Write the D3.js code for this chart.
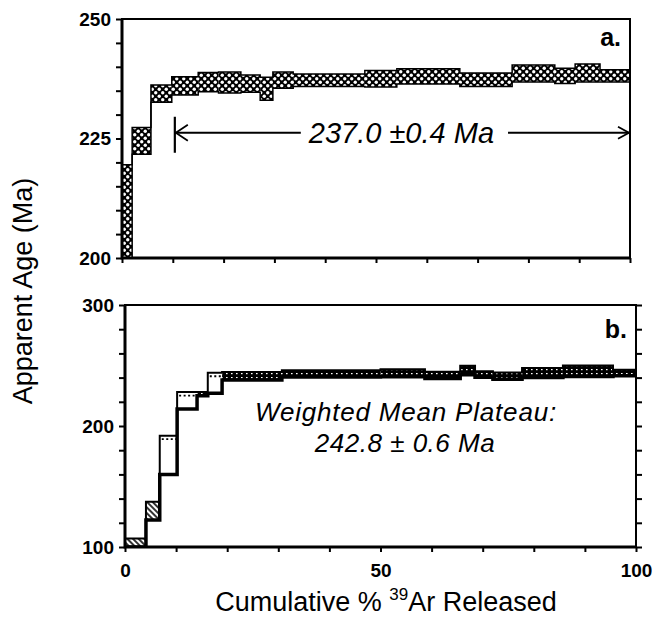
<!DOCTYPE html>
<html lang="en">
<head>
<meta charset="UTF-8">
<title>Apparent age spectra</title>
<script src="https://d3js.org/d3.v7.min.js"></script>
<style>
  body { margin: 0; background: #fff; }
  svg { font-family: "Liberation Sans", Arial, Helvetica, sans-serif; }
  .tick text { font-size: 19px; font-weight: bold; fill: #000; }
  .tick line { stroke: #000; stroke-width: 2px; }
  .domain { display: none; }
</style>
</head>
<body>
<script>
// Panel a: step boundaries (cumulative % 39Ar), apparent age and 1-sigma error (Ma)
const cumA = [0, 2.0, 5.7, 9.8, 15.0, 19.0, 23.4, 27.2, 29.7, 33.7, 47.8, 54.1, 66.5, 76.8, 85.2, 89.2, 94.1, 100];
const ageA = [208, 224.5, 234.4, 236.0, 236.8, 236.7, 236.5, 235.4, 237.2, 237.2, 237.5, 238.0, 237.3, 238.6, 238.1, 238.7, 238.1];
const errA = [11.5, 2.8, 1.8, 1.9, 2.0, 2.2, 1.8, 2.4, 1.7, 1.3, 1.7, 1.6, 1.4, 1.8, 1.6, 1.9, 1.3];
const plateauA = [10.4, 100];
const plateauTextA = "237.0 \u00b10.4 Ma";

// Panel b
const cumB = [0, 4.1, 6.8, 10.2, 14.1, 16.2, 19.0, 30.7, 50.0, 58.7, 65.6, 68.5, 72.0, 77.7, 85.7, 95.5, 100];
const ageB = [103.5, 129.8, 176, 221, 226.5, 235.5, 241.3, 243.3, 243.8, 242.0, 246.0, 242.8, 241.5, 244.0, 245.5, 244.0];
const errB = [3.5, 7.5, 16, 7, 1.5, 8.5, 3.3, 2.8, 3.0, 2.8, 3.7, 2.5, 2.8, 4.0, 4.5, 2.5];
const plateauTextB = ["Weighted Mean Plateau:", "242.8 \u00b1 0.6 Ma"];

// axes
const domainA = [200, 250], labelsA = [200, 225, 250], minorA = 5;
const domainB = [100, 300], labelsB = [100, 200, 300], minorB = 20;
const xLabels = [0, 50, 100], xMinor = 10;

const width = 659, height = 618;
const svg = d3.select("body").append("svg")
  .attr("width", width)
  .attr("height", height);

const defs = svg.append("defs");

// black with white dots (panel a)
const dots = defs.append("pattern")
  .attr("id", "dots")
  .attr("patternUnits", "userSpaceOnUse")
  .attr("width", 7).attr("height", 7);
dots.append("rect").attr("width", 7).attr("height", 7).attr("fill", "#000");
dots.append("circle").attr("cx", 1.75).attr("cy", 1.75).attr("r", 1.7).attr("fill", "#fff");
dots.append("circle").attr("cx", 5.25).attr("cy", 5.25).attr("r", 1.7).attr("fill", "#fff");

// black with fine white specks (panel b plateau steps)
const fine = defs.append("pattern")
  .attr("id", "fine")
  .attr("patternUnits", "userSpaceOnUse")
  .attr("width", 5).attr("height", 4);
fine.append("rect").attr("width", 5).attr("height", 4).attr("fill", "#000");
fine.append("rect").attr("x", 1).attr("y", 1).attr("width", 1.6).attr("height", 1.2).attr("fill", "#fff");

// diagonal hatch (panel b)
const hatch = defs.append("pattern")
  .attr("id", "hatch")
  .attr("patternUnits", "userSpaceOnUse")
  .attr("width", 4).attr("height", 4)
  .attr("patternTransform", "rotate(-45)");
hatch.append("rect").attr("width", 4).attr("height", 4).attr("fill", "#fff");
hatch.append("line").attr("x1", 1).attr("x2", 1).attr("y1", 0).attr("y2", 4)
  .attr("stroke", "#000").attr("stroke-width", 1.6);

function makeSteps(cum, age, err) {
  return age.map((a, i) => ({ x0: cum[i], x1: cum[i + 1], lo: a - err[i], hi: a + err[i], err: err[i] }));
}

function stairs(steps, key) {
  const pts = steps.map(d => [d.x0, d[key]]);
  pts.push([100, steps[steps.length - 1][key]]);
  return pts;
}

function drawPanel(p) {
  const g = svg.append("g");
  const x = d3.scaleLinear().domain([0, 100]).range([p.left, p.right]);
  const y = d3.scaleLinear().domain(p.domain).range([p.bottom, p.top]);

  const clipId = "clip-" + p.name;
  defs.append("clipPath").attr("id", clipId)
    .append("rect")
    .attr("x", p.left).attr("y", p.top)
    .attr("width", p.right - p.left).attr("height", p.bottom - p.top);

  const plot = g.append("g").attr("clip-path", `url(#${clipId})`);
  const steps = makeSteps(p.cum, p.age, p.err);

  // step boxes
  plot.selectAll("rect.box")
    .data(steps)
    .join("rect")
    .attr("class", "box")
    .attr("x", d => x(d.x0))
    .attr("width", d => x(d.x1) - x(d.x0))
    .attr("y", d => y(d.hi))
    .attr("height", d => y(d.lo) - y(d.hi))
    .attr("fill", (d, i) => p.fill(d, i));

  const line = d3.line().x(d => x(d[0])).y(d => y(d[1])).curve(d3.curveStepAfter);

  if (p.name === "b") {
    // dotted row just under the top edge of the large open steps
    plot.selectAll("line.dot")
      .data(steps.filter((d, i) => p.fill(d, i) === "#fff"))
      .join("line")
      .attr("x1", d => x(d.x0) + 2)
      .attr("x2", d => x(d.x1) - 1)
      .attr("y1", d => y(d.hi) + 3.5)
      .attr("y2", d => y(d.hi) + 3.5)
      .attr("stroke", "#000")
      .attr("stroke-width", 1.8)
      .attr("stroke-dasharray", "2,2.5");
  }

  // outline: upper and lower staircases plus the two ends
  plot.append("path")
    .attr("d", line(stairs(steps, "hi")))
    .attr("fill", "none").attr("stroke", "#000").attr("stroke-width", p.hiWidth);
  plot.append("path")
    .attr("d", line(stairs(steps, "lo")))
    .attr("fill", "none").attr("stroke", "#000").attr("stroke-width", p.loWidth);
  const first = steps[0], last = steps[steps.length - 1];
  plot.append("line")
    .attr("x1", x(0)).attr("x2", x(0))
    .attr("y1", y(first.lo)).attr("y2", y(first.hi))
    .attr("stroke", "#000").attr("stroke-width", 2);
  plot.append("line")
    .attr("x1", x(100)).attr("x2", x(100))
    .attr("y1", y(last.lo)).attr("y2", y(last.hi))
    .attr("stroke", "#000").attr("stroke-width", 2);

  // frame
  g.append("rect")
    .attr("x", p.left).attr("y", p.top)
    .attr("width", p.right - p.left).attr("height", p.bottom - p.top)
    .attr("fill", "none").attr("stroke", "#000").attr("stroke-width", 2);
  g.append("path")
    .attr("d", `M${p.left},${p.top}V${p.bottom}H${p.right}`)
    .attr("fill", "none").attr("stroke", "#000").attr("stroke-width", 3);

  // axes
  g.append("g")
    .attr("transform", `translate(${p.left},0)`)
    .call(d3.axisLeft(y)
      .tickValues(d3.range(p.domain[0], p.domain[1] + 1, p.minor))
      .tickSize(6).tickPadding(5)
      .tickFormat(d => p.labels.includes(d) ? d : ""));

  if (p.rightTicks) {
    g.append("g")
      .attr("transform", `translate(${p.right},0)`)
      .call(d3.axisRight(y)
        .tickValues(d3.range(p.domain[0], p.domain[1] + 1, p.minor))
        .tickSize(6).tickFormat(""));
  }

  const xAxis = g.append("g")
    .attr("transform", `translate(0,${p.bottom})`)
    .call(d3.axisBottom(x)
      .tickValues(d3.range(0, 101, xMinor))
      .tickSize(5).tickPadding(9)
      .tickFormat(d => p.xLabels && xLabels.includes(d) ? d : ""));
  xAxis.selectAll(".tick text").attr("dy", "0.85em");

  // panel letter
  g.append("text")
    .attr("x", p.right - 9).attr("y", p.top + p.letterY)
    .attr("text-anchor", "end")
    .attr("font-size", 25)
    .attr("font-weight", "bold")
    .text(p.letter);

  return { g, x, y };
}

// Panel a
const pa = drawPanel({
  name: "a", cum: cumA, age: ageA, err: errA,
  left: 122, right: 630, top: 19, bottom: 258,
  domain: domainA, labels: labelsA, minor: minorA,
  fill: () => "url(#dots)", hiWidth: 1.5, loWidth: 1.5,
  rightTicks: false, xLabels: false, letter: "a.", letterY: 27
});

// plateau arrow in panel a
const arrowY = pa.y(226.2);
const ax0 = pa.x(plateauA[0]), ax1 = pa.x(plateauA[1]);
const labelA = pa.g.append("text")
  .attr("x", (ax0 + ax1) / 2 - 1)
  .attr("y", arrowY + 10)
  .attr("text-anchor", "middle")
  .attr("font-size", 29)
  .attr("font-style", "italic")
  .text(plateauTextA);
const bb = labelA.node().getBBox();
const arrow = pa.g.append("g").attr("stroke", "#000").attr("fill", "none").attr("stroke-width", 1.8);
arrow.append("line").attr("x1", ax0).attr("x2", ax0).attr("y1", arrowY - 16).attr("y2", arrowY + 20).attr("stroke-width", 2.2);
arrow.append("line").attr("x1", ax0).attr("x2", bb.x - 7).attr("y1", arrowY).attr("y2", arrowY);
arrow.append("path").attr("d", `M${ax0 + 13},${arrowY - 8}L${ax0 + 1},${arrowY}L${ax0 + 13},${arrowY + 8}`);
arrow.append("line").attr("x1", bb.x + bb.width + 14).attr("x2", ax1).attr("y1", arrowY).attr("y2", arrowY);
arrow.append("path").attr("d", `M${ax1 - 12},${arrowY - 6}L${ax1 - 1},${arrowY}L${ax1 - 12},${arrowY + 6}`);

// Panel b
const hatched = [0, 1];
const pb = drawPanel({
  name: "b", cum: cumB, age: ageB, err: errB,
  left: 125, right: 636, top: 305, bottom: 547,
  domain: domainB, labels: labelsB, minor: minorB,
  fill: (d, i) => hatched.includes(i) ? "url(#hatch)" : (d.err < 5 ? "url(#fine)" : "#fff"),
  hiWidth: 2, loWidth: 3.5,
  rightTicks: true, xLabels: true, letter: "b.", letterY: 33
});

pb.g.append("text")
  .attr("x", 406).attr("y", 421)
  .attr("text-anchor", "middle")
  .attr("font-size", 26)
  .attr("letter-spacing", 0.8)
  .attr("font-style", "italic")
  .text(plateauTextB[0]);
pb.g.append("text")
  .attr("x", 405).attr("y", 452)
  .attr("text-anchor", "middle")
  .attr("font-size", 26)
  .attr("letter-spacing", 0.5)
  .attr("font-style", "italic")
  .text(plateauTextB[1]);

// axis titles
svg.append("text")
  .attr("transform", "translate(32,291) rotate(-90)")
  .attr("text-anchor", "middle")
  .attr("font-size", 27)
  .text("Apparent Age (Ma)");

const xt = svg.append("text")
  .attr("x", 386).attr("y", 611)
  .attr("text-anchor", "middle")
  .attr("font-size", 27);
xt.append("tspan").text("Cumulative % ");
xt.append("tspan").attr("font-size", 17).attr("dy", -11).text("39");
xt.append("tspan").attr("dy", 11).text("Ar Released");
</script>
</body>
</html>
